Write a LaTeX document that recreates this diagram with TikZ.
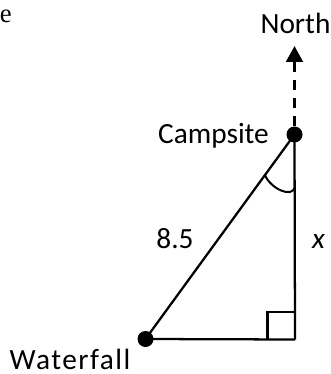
\documentclass[tikz,border=0pt]{standalone}
\usepackage{fontspec}
\setmainfont{Carlito}
\newfontfamily\serifface{Liberation Serif}
\usetikzlibrary{arrows.meta}
\begin{document}
\begin{tikzpicture}[x=0.75pt,y=-0.75pt,
  lbl/.style={inner sep=0pt,anchor=base,font=\fontsize{22}{26}\selectfont},
  dotnode/.style={circle,fill=black,inner sep=0pt,minimum size=12pt},
  edge/.style={line width=1.7pt},
  northarrow/.style={line width=2.2pt,dash pattern=on 7.9pt off 5.6pt,-{Triangle[width=12.5pt,length=12pt]}},
  anglemark/.style={line width=1.5pt}]
\useasboundingbox (0,0) rectangle (331,374);
% partial text at top left
\node[inner sep=0pt,anchor=base west,font=\serifface\fontsize{20}{24}\selectfont] (e) at (-0.5,22.7) {e};
% points
\node[dotnode] (C) at (294.5,134.5) {};
\node[dotnode] (W) at (145.5,339) {};
\coordinate (R) at (295,339.5);
\coordinate (N) at (294.5,46);
% right angle square
\coordinate (S1) at (267.5,339.5);
\coordinate (S2) at (267.5,312);
\coordinate (S3) at (295,312);
\draw[edge] (S1) -- (S2) -- (S3);
% triangle
\draw[edge] (W.center) -- (C.center);
\draw[edge] (C.center) -- (R);
\draw[edge] (W.center) -- (R);
% angle mark
\coordinate (A1) at (265,175);
\coordinate (A2) at (295,187);
\draw[anglemark] (A1) .. controls (270,188) and (292,199) .. (A2);
% north arrow
\draw[northarrow] (C) -- (N);
% labels
\node[lbl] (north) at (295.5,33.3) {North};
\node[lbl] (camp) at (213.5,143.3) {Campsite};
\node[lbl] (len) at (175,248) {8.5};
\node[lbl] (xl) at (318.5,248) {\itshape x};
\node[lbl,font=\fontsize{22}{26}\selectfont\addfontfeature{LetterSpace=5}] (wf) at (70,369.5) {Waterfall};
\end{tikzpicture}
\end{document}
